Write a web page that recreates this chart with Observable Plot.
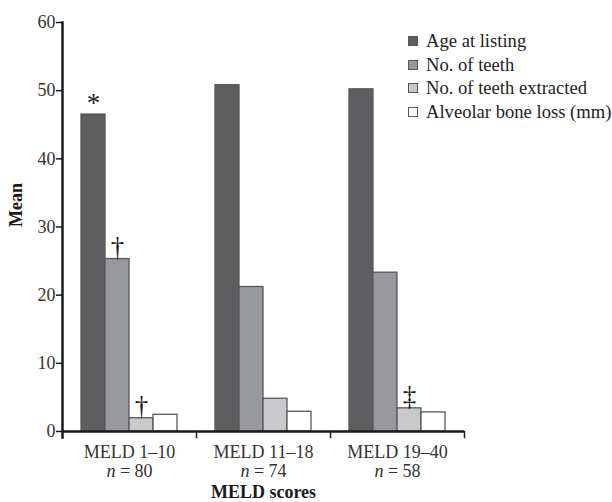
<!DOCTYPE html>
<html><head><meta charset="utf-8">
<script src="https://cdn.jsdelivr.net/npm/d3@7"></script>
<script src="https://cdn.jsdelivr.net/npm/@observablehq/plot@0.6"></script>
<style>
body{margin:0;background:#fff}
#chart{position:relative;width:612px;height:502px;font-family:"Liberation Serif","Times New Roman",serif}
#legend{position:absolute;left:408px;top:29px;font-family:"Liberation Serif","Times New Roman",serif;font-size:18.6px;color:#222}
.item{display:flex;align-items:center;height:23.7px;white-space:nowrap}
.sw{width:10px;height:10px;border:1.2px solid #58585a;margin-right:8px;box-sizing:border-box;flex:none}
</style></head>
<body><div id="chart"><div id="legend"></div></div>
<script>
// ---- data ----
const categories = ["MELD 1–10", "MELD 11–18", "MELD 19–40"];
const sampleSizes = [80, 74, 58];
const series = ["Age at listing", "No. of teeth", "No. of teeth extracted", "Alveolar bone loss (mm)"];
const ageAtListing = [46.5, 50.8, 50.2];
const noOfTeeth = [25.3, 21.2, 23.3];
const teethExtracted = [1.95, 4.8, 3.4];
const boneLoss = [2.45, 2.9, 2.8];
const colors = ["#5e5e60", "#98999d", "#c8c9cb", "#ffffff"];
const yTicks = [0, 10, 20, 30, 40, 50, 60];
const annotationCats = ["MELD 1–10", "MELD 1–10", "MELD 1–10", "MELD 19–40"];
const annotationSeries = ["Age at listing", "No. of teeth", "No. of teeth extracted", "No. of teeth extracted"];
const annotationSymbols = ["*", "†", "†", "‡"];

// ---- build tables ----
const valueArrays = [ageAtListing, noOfTeeth, teethExtracted, boneLoss];
const rows = categories.flatMap((c, i) => series.map((s, j) => ({cat: c, series: s, value: valueArrays[j][i]})));
const annots = annotationSymbols.map((sym, k) => {
  const ci = categories.indexOf(annotationCats[k]);
  const sj = series.indexOf(annotationSeries[k]);
  return {cat: annotationCats[k], series: annotationSeries[k], value: valueArrays[sj][ci], sym};
});

const W = 612, H = 502, mt = 22, mb = 71, ml = 62, mr = 148;
const ink = "#1a1a1a";

const chart = Plot.plot({
  width: W, height: H,
  marginTop: mt, marginBottom: mb, marginLeft: ml, marginRight: mr,
  style: {fontFamily: "'Liberation Serif', 'Times New Roman', serif", fontSize: "18px", color: "#333", background: "transparent"},
  fx: {domain: categories, padding: 0, label: null, axis: null},
  x: {domain: series, paddingInner: 0, paddingOuter: 0.735, axis: null},
  y: {domain: [0, 60], label: null},
  color: {domain: series, range: colors},
  marks: [
    Plot.barY(rows, {fx: "cat", x: "series", y: "value", fill: "series", stroke: "#58585a", strokeWidth: 1.3}),
    Plot.ruleY([0], {stroke: ink, strokeWidth: 2.5}),
    Plot.frame({anchor: "left", fx: categories[0], stroke: ink, strokeWidth: 2.5, insetBottom: -6}),
    Plot.frame({anchor: "right", stroke: ink, strokeWidth: 1.5, insetTop: H - mt - mb, insetBottom: -6}),
    Plot.axisY({ticks: yTicks, tickSize: 6, tickPadding: 1, label: null, stroke: ink, strokeWidth: 1.5, fontSize: 18}),
    Plot.axisFx({anchor: "bottom", tickSize: 0, tickPadding: 12, label: null, fontSize: 18, lineHeight: 1.1, color: "#333",
      tickFormat: (d) => `${d}\nn = ${sampleSizes[categories.indexOf(d)]}`}),
    Plot.text(annots, {fx: "cat", x: "series", y: "value", text: "sym", lineAnchor: "bottom", dy: -3, fontSize: 27, fill: ink}),
    Plot.text(["Mean"], {fx: () => categories[0], frameAnchor: "left", dx: -46, rotate: -90, fontWeight: "bold", fontSize: 18, fill: ink, text: d => d}),
    Plot.text(["MELD scores"], {fx: () => categories[1], frameAnchor: "bottom", dy: 66, fontWeight: "bold", fontSize: 18, fill: ink, text: d => d})
  ]
});

// italic "n"
chart.querySelectorAll("tspan").forEach(t => {
  const m = /^n = (.*)$/.exec(t.textContent);
  if (m) {
    t.textContent = "";
    const it = document.createElementNS("http://www.w3.org/2000/svg", "tspan");
    it.setAttribute("font-style", "italic");
    it.textContent = "n";
    t.appendChild(it);
    t.appendChild(document.createTextNode(" = " + m[1]));
  }
});
document.getElementById("chart").prepend(chart);

// legend
const lg = document.getElementById("legend");
series.forEach((s, j) => {
  const d = document.createElement("div"); d.className = "item";
  const sw = document.createElement("span"); sw.className = "sw"; sw.style.background = colors[j];
  const tx = document.createElement("span"); tx.textContent = s;
  d.append(sw, tx); lg.append(d);
});
</script>
</body></html>
